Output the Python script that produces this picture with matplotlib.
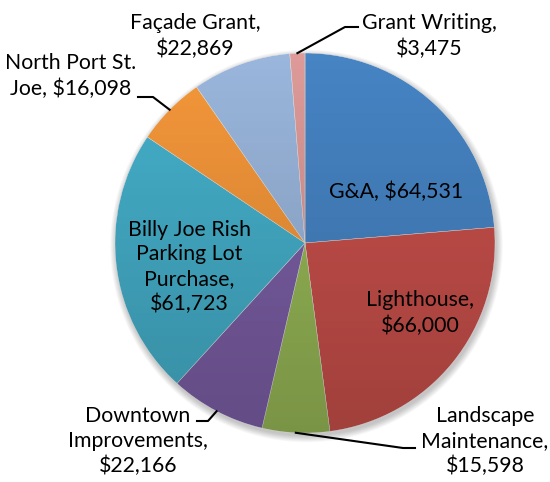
import numpy as np
from matplotlib import pyplot as plt
from matplotlib.patches import Circle

plt.rcParams['font.family'] = ['Lato', 'DejaVu Sans']

# budget items, clockwise from 12 o'clock
labels = ['G&A', 'Lighthouse', 'Landscape\nMaintenance', 'Downtown\nImprovements',
          'Billy Joe Rish\nParking Lot\nPurchase', 'North Port St.\nJoe', 'Façade Grant',
          'Grant Writing']
values = [64531, 66000, 15598, 22166, 61723, 16098, 22869, 3475]
# how the value is joined to the name in each label
joins = [' ', '\n', '\n', '\n', '\n', ' ', '\n', '\n']
colors = ['#4684c4', '#c9504b', '#98b957', '#7c5fa6', '#45b0cb', '#f5973a', '#9ab6dc', '#dd9a98']

W, H = 550, 482
cx, cy, r = 305, H - 243, 190

fig = plt.figure(figsize=(W / 100, H / 100), dpi=100)
ax = fig.add_axes([0, 0, 1, 1])

# soft shadow under the pie
for i in range(10):
    ax.add_patch(Circle((cx + 1.5, cy - 3), r + i * 0.7, color='black', alpha=0.025, lw=0, zorder=0))

wedges, _ = ax.pie(values, colors=colors, startangle=90, counterclock=False,
                   center=(cx, cy), radius=r, frame=True,
                   wedgeprops=dict(linewidth=0.3, edgecolor='#e8e8e8'))

# darken toward the bottom like the Office gradient
grad = np.zeros((200, 2, 4))
grad[:, :, 3] = np.linspace(0.0, 0.2, 200)[:, None]
img = ax.imshow(grad, extent=[cx - r, cx + r, cy - r, cy + r], zorder=3, aspect='auto')
img.set_clip_path(Circle((cx, cy), r, transform=ax.transData))

# label centres (pixel positions, y from top)
text_pos = [(396, 192), (420, 313), (485, 441), (138, 441), (189, 267), (71, 76), (195, 36), (429, 36)]
for lab, v, j, (tx, ty) in zip(labels, values, joins, text_pos):
    ax.text(tx, H - ty, f'{lab},{j}${v:,}', ha='center', va='center',
            fontsize=15.3, linespacing=1.3, zorder=5)

# leader lines: from wedge edge to elbow to text
leaders = {2: [(403, 448), (415, 448)], 3: [(208, 421), (197, 421)],
           5: [(153, 97), (138, 97)], 7: [(345, 27), (358, 27)]}
for i, pts in leaders.items():
    w = wedges[i]
    a = np.deg2rad((w.theta1 + w.theta2) / 2)
    xs = [cx + r * np.cos(a)] + [p[0] for p in pts]
    ys = [cy + r * np.sin(a)] + [H - p[1] for p in pts]
    ax.plot(xs, ys, color='black', lw=1.5, zorder=5)

ax.set_xlim(0, W)
ax.set_ylim(0, H)
ax.axis('off')
fig.savefig('out.png', dpi=100)
